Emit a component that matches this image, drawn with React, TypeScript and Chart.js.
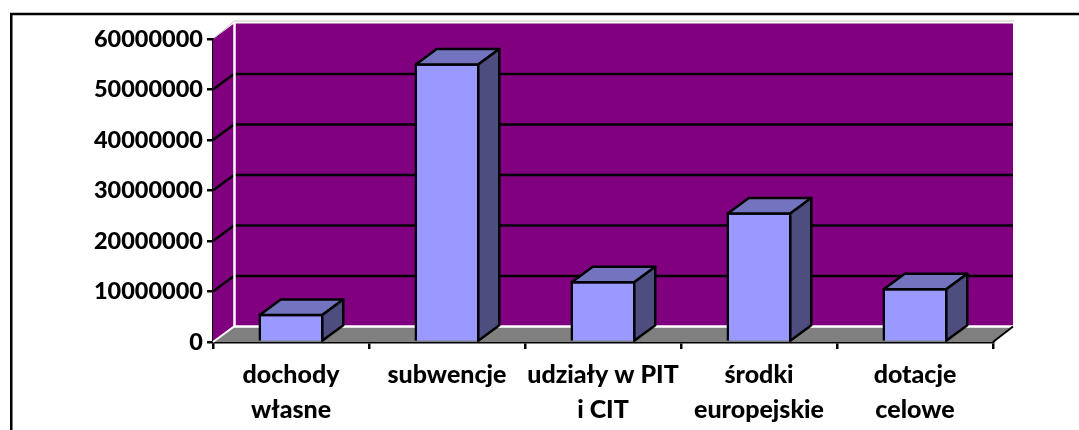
import React, { useEffect, useRef } from "react";
import { Chart, registerables } from "chart.js";

Chart.register(...registerables);

const categories = [["dochody", "własne"], "subwencje", ["udziały w PIT", "i CIT"], ["środki", "europejskie"], ["dotacje", "celowe"]];
const values = [5600000, 55200000, 12100000, 25700000, 10700000];
const yTicksMax = 60000000;
const yTickStep = 10000000;

const DX = 21;
const DY = 15.5;
const LW = 2.5;

const poly = (ctx: any, pts: number[][], fill?: string, stroke?: string, lw = LW) => {
  ctx.beginPath();
  pts.forEach((p, i) => (i ? ctx.lineTo(p[0], p[1]) : ctx.moveTo(p[0], p[1])));
  ctx.closePath();
  if (fill) { ctx.fillStyle = fill; ctx.fill(); }
  if (stroke) { ctx.strokeStyle = stroke; ctx.lineWidth = lw; ctx.lineJoin = "round"; ctx.stroke(); }
};
const line = (ctx: any, a: number[], b: number[], color: string, lw = LW) => {
  ctx.beginPath(); ctx.moveTo(a[0], a[1]); ctx.lineTo(b[0], b[1]);
  ctx.strokeStyle = color; ctx.lineWidth = lw; ctx.stroke();
};

const scene3d = {
  id: "scene3d",
  beforeDraw(chart: any) {
    const { ctx } = chart;
    ctx.save();
    ctx.strokeStyle = "#000"; ctx.lineWidth = 2.5;
    ctx.beginPath(); ctx.moveTo(11.25, 440); ctx.lineTo(11.25, 14); ctx.lineTo(1090, 14); ctx.stroke();
    ctx.restore();
  },
  beforeDatasetsDraw(chart: any) {
    const { ctx, scales: { x, y } } = chart;
    const l = x.left, r = x.right, t = y.top, b = y.bottom;
    const backR = r + DX - 1;
    ctx.save();
    poly(ctx, [[l, t], [l + DX, t - DY], [l + DX, b - DY], [l, b]], "#800080");
    ctx.fillStyle = "#800080";
    ctx.fillRect(l + DX, t - DY, backR - l - DX, b - t);
    poly(ctx, [[l, b], [l + DX, b - DY], [backR, b - DY], [r, b]], "#808080");
    line(ctx, [l + 1, t - 1], [l + DX, t - DY - 2], "#c8c8c8", 1);
    line(ctx, [l + DX, t - DY - 2.5], [backR + 1, t - DY - 2.5], "#c8c8c8", 1);
    y.ticks.forEach((tk: any) => {
      if (tk.value === 0 || tk.value === yTicksMax) return;
      const py = y.getPixelForValue(tk.value);
      line(ctx, [l, py], [l + DX, py - DY], "#000");
      line(ctx, [l + DX, py - DY], [backR, py - DY], "#000");
    });
    line(ctx, [l + DX + 0.5, t - DY - 1], [l + DX + 0.5, b - DY], "#fff", 2.5);
    line(ctx, [l + DX, b - DY], [backR, b - DY], "#fff", 2.5);
    line(ctx, [l, b], [l + DX, b - DY], "#fff", 2);
    line(ctx, [r, b], [backR, b - DY], "#000", 2);
    ctx.restore();
  },
  afterDatasetsDraw(chart: any) {
    const { ctx } = chart;
    ctx.save();
    chart.getDatasetMeta(0).data.forEach((bar: any) => {
      const inset = LW / 2;
      const x0 = bar.x - bar.width / 2 + inset, x1 = bar.x + bar.width / 2 - inset, top = bar.y + inset, base = bar.base;
      poly(ctx, [[x0, top], [x0 + DX, top - DY], [x1 + DX, top - DY], [x1, top]], "#7373BF", "#000");
      poly(ctx, [[x1, top], [x1 + DX, top - DY], [x1 + DX, base - DY], [x1, base]], "#4D4D80", "#000");
    });
    ctx.restore();
  },
};

export default function App() {
  const ref = useRef<HTMLCanvasElement>(null);
  useEffect(() => {
    const yFont = { family: "Lato", size: 23.5, weight: "900" as any };
    const xFont = { family: "Lato", size: 25, weight: "900" as any, lineHeight: 1.4 };
    const chart = new Chart(ref.current!, {
      type: "bar",
      data: {
        labels: categories as any,
        datasets: [{
          data: values,
          backgroundColor: "#9999FF",
          borderColor: "#000",
          borderWidth: LW,
          barPercentage: 0.417,
          categoryPercentage: 1,
        }],
      },
      plugins: [scene3d],
      options: {
        animation: false,
        responsive: false,
        layout: { padding: { top: 39, right: 86, bottom: 0, left: 0 } },
        plugins: { legend: { display: false }, tooltip: { enabled: false } },
        scales: {
          x: {
            afterFit: (s: any) => { s.height = 88; },
            grid: { drawOnChartArea: false, drawTicks: true, tickLength: 7, color: "#000", lineWidth: LW },
            border: { color: "#000", width: LW },
            ticks: { color: "#000", font: xFont, padding: 8, maxRotation: 0, autoSkip: false },
          },
          y: {
            min: 0,
            max: yTicksMax,
            afterFit: (s: any) => { s.width = 213; },
            grid: { drawOnChartArea: false, drawTicks: true, tickLength: 6, color: "#000", lineWidth: LW },
            border: { color: "#000", width: LW },
            ticks: { color: "#000", font: yFont, padding: 4, stepSize: yTickStep, callback: (v: any) => String(v) },
          },
        },
      },
    });
    return () => chart.destroy();
  }, []);
  return (
    <div style={{ position: "fixed", left: 0, top: 0, width: 1079, height: 430, background: "#fff" }}>
      <canvas ref={ref} width={1079} height={430} style={{ display: "block" }} />
    </div>
  );
}
